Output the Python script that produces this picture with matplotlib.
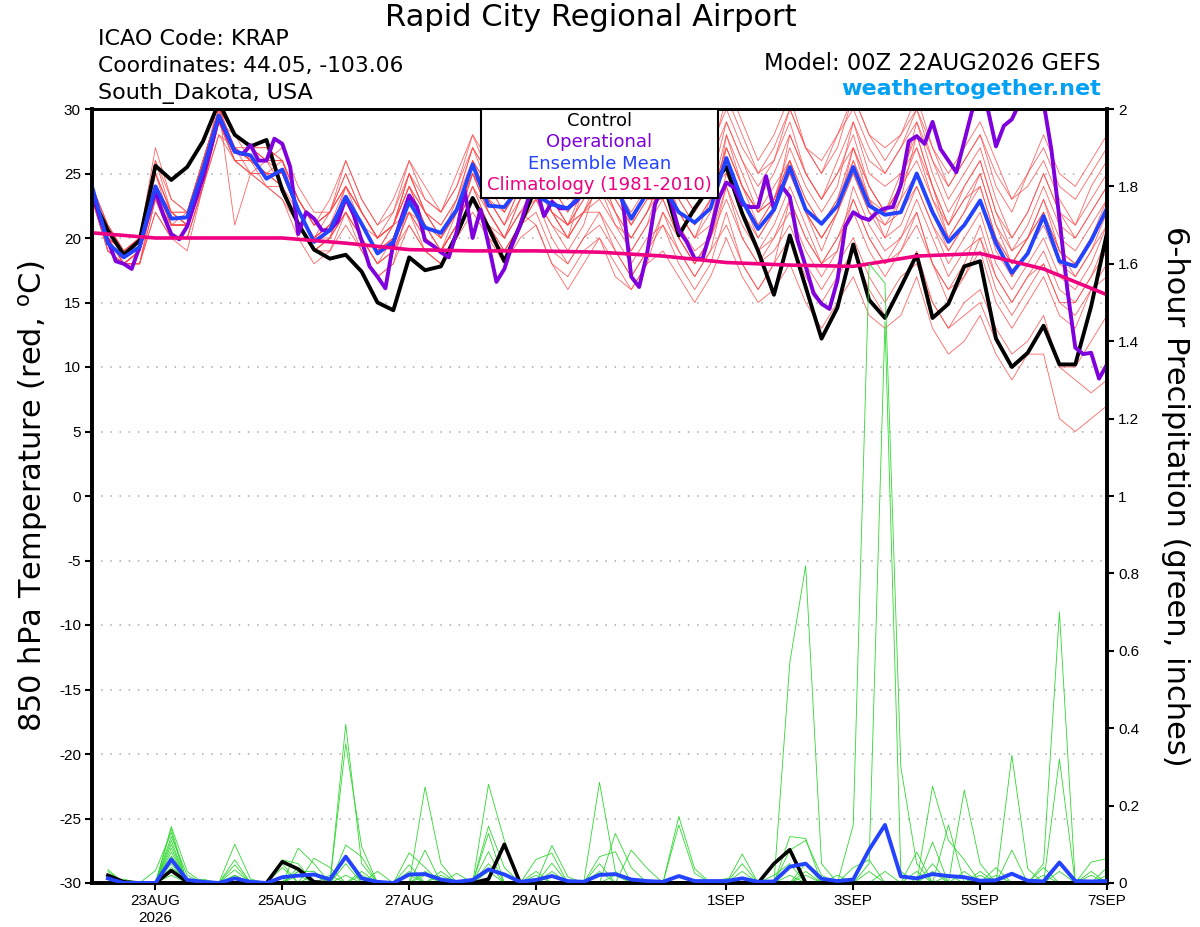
import numpy as np
import matplotlib
matplotlib.use('Agg')
import matplotlib.pyplot as plt
from matplotlib.patches import Rectangle

plt.rcParams['font.family'] = ['Liberation Sans', 'DejaVu Sans']
plt.rcParams['axes.unicode_minus'] = False
plt.rcParams['mathtext.fontset'] = 'dejavusans'

# ---- data (read off the GEFS plume for KRAP, run 00Z 22AUG2026) ----
# 850 hPa temperature, 6-hourly from 00Z 22AUG (65 steps)
temp_hours = np.arange(0, 385, 6)
control_t = [23.2, 20.6, 18.7, 19.8, 25.6, 24.5, 25.5, 27.5, 30.5, 28.0, 27.1, 27.6,
             23.7, 21.1, 19.1, 18.4, 18.7, 17.4, 15.0, 14.4, 18.5, 17.5, 17.8, 20.3,
             23.1, 20.8, 18.2, 21.0, 24.0, 23.8, 25.0, 24.2, 26.0, 24.5, 24.0, 25.0,
             24.5, 20.2, 22.3, 24.0, 25.5, 21.9, 19.0, 15.6, 20.2, 16.2, 12.2, 14.6,
             19.5, 15.2, 13.8, 16.2, 18.7, 13.8, 14.9, 17.8, 18.2, 12.2, 10.0, 11.1,
             13.2, 10.2, 10.2, 14.7, 20.4]
ensmean_t = [24.0, 19.6, 18.5, 19.3, 24.0, 21.5, 21.6, 25.3, 29.5, 26.7, 26.4, 24.6,
             25.3, 22.2, 19.7, 20.6, 23.2, 21.1, 18.8, 19.7, 22.8, 20.8, 20.4, 22.2,
             25.7, 22.5, 22.4, 24.0, 23.3, 22.6, 22.3, 23.5, 24.5, 24.0, 21.5, 23.5,
             24.0, 22.0, 21.2, 22.3, 26.2, 22.9, 20.7, 22.2, 25.5, 22.2, 21.1, 22.5,
             25.5, 22.5, 21.8, 22.0, 25.0, 22.0, 19.7, 21.0, 22.9, 19.6, 17.3, 18.8,
             21.7, 18.2, 17.8, 19.8, 22.3]

# operational run is 3-hourly (129 steps)
oper_hours = np.arange(0, 385, 3)
oper_t = [23.7, 21.5, 19.8, 18.2, 18.0, 17.6, 19.3, 21.5, 23.6, 21.8, 20.3, 19.9,
          20.9, 22.8, 24.7, 27.0, 29.4, 28.0, 26.7, 26.5, 27.2, 26.0, 26.0, 27.7,
          27.3, 25.5, 20.3, 22.0, 21.5, 20.6, 20.6, 21.3, 23.1, 21.8, 19.8, 17.8,
          17.0, 16.1, 19.6, 21.5, 23.3, 22.4, 19.8, 19.4, 18.9, 18.5, 20.5, 23.7,
          20.0, 22.2, 19.5, 16.6, 17.6, 19.5, 21.0, 23.0, 24.0, 21.7, 22.8, 22.3,
          22.3, 22.8, 23.5, 24.5, 25.0, 24.5, 25.5, 22.5, 17.0, 16.2, 18.8, 22.6,
          24.0, 22.9, 20.6, 19.7, 18.4, 18.4, 20.5, 23.0, 24.3, 23.9, 22.6, 22.4,
          22.4, 24.8, 22.2, 24.0, 23.2, 19.8, 17.8, 15.7, 14.9, 14.5, 16.7, 20.9,
          22.0, 21.6, 21.4, 22.0, 22.3, 22.4, 24.1, 27.5, 27.9, 27.3, 29.0, 26.9,
          26.0, 25.1, 27.5, 29.9, 30.3, 29.9, 27.1, 28.7, 29.2, 30.5, 31.5, 32.0,
          30.5, 26.8, 21.5, 16.0, 11.5, 11.0, 11.1, 9.1, 10.2]

# 1981-2010 climatology, once a day at 00Z
clim_hours = np.arange(0, 385, 24)
clim_t = [20.4, 20.0, 20.0, 20.0, 19.6, 19.1, 19.0, 19.0, 18.9, 18.6, 18.1,
          17.9, 17.8, 18.6, 18.8, 17.6, 15.6]

# individual ensemble members (temperature)
members_t = [
    [24,21,19,20, 26,22,22,26, 30,28,27,27, 26,23,21,22, 25,22,20,22, 25,23,22,24, 27,25,24,26,
     28,26,25,27, 29,27,25,27, 30,27,25,26, 31,28,25,27, 30,27,26,28, 31,28,27,28, 31,27,24,26,
     28,24,22,25, 27,24,23,25, 27],
    [23,19,18,18, 22,20,20,24, 29,26,25,24, 23,21,19,19, 21,19,17,18, 21,19,18,20, 22,20,18,20,
     21,18,17,19, 20,18,16,18, 19,17,15,17, 20,17,15,16, 18,15,13,15, 17,14,13,14, 17,13,11,12,
     14,11,9,11, 13,10,10,12, 14],
    [24,20,18,19, 24,21,22,26, 30,21,25,26, 24,21,19,20, 24,22,20,21, 24,21,19,21, 26,23,21,24,
     25,22,20,24, 27,24,21,24, 26,22,20,23, 28,24,21,23, 26,22,19,22, 27,23,20,23, 28,24,20,22,
     25,21,18,20, 23,19,17,19, 22],
    [23,20,19,19, 25,22,21,25, 29,27,26,25, 26,23,21,23, 26,23,21,22, 26,24,22,25, 28,26,24,27,
     30,28,26,29, 32,29,27,29, 31,28,26,28, 32,29,26,28, 31,27,25,28, 30,27,25,27, 29,26,24,26,
     28,25,23,24, 26,23,21,23, 25],
    [24,19,18,18, 23,21,21,25, 29,27,26,24, 24,21,19,20, 22,20,18,19, 22,20,19,21, 24,21,19,21,
     22,19,18,20, 22,19,17,19, 21,18,16,18, 22,18,16,18, 20,17,15,17, 19,16,14,16, 19,15,13,15,
     16,13,11,12, 14,10,9,8, 9],
    [24,20,19,19, 24,22,21,24, 28,26,26,25, 25,22,20,21, 23,21,19,20, 23,20,19,21, 24,22,20,22,
     23,21,19,21, 25,22,20,22, 24,21,19,20, 23,20,18,19, 21,18,16,18, 20,17,15,17, 18,15,13,14,
     15,12,10,11, 11,6,5,6, 7],
    [23,20,18,19, 24,21,21,25, 30,27,26,25, 25,22,20,21, 23,21,19,21, 25,22,20,22, 25,22,20,23,
     26,23,21,23, 25,22,19,21, 23,20,18,20, 25,22,19,21, 24,21,18,20, 23,20,18,20, 22,18,16,18,
     21,17,15,17, 19,16,15,17, 19],
    [24,21,19,20, 25,22,22,26, 30,27,27,26, 27,24,22,22, 24,22,20,21, 22,21,20,23, 26,24,23,25,
     25,22,21,23, 28,25,23,26, 29,26,24,27, 30,27,25,26, 29,25,23,26, 29,25,24,25, 28,24,21,23,
     25,21,19,21, 24,21,20,22, 24],
    [23,19,18,18, 23,20,20,24, 29,26,25,25, 24,21,19,20, 22,20,18,19, 22,19,18,20, 23,21,20,23,
     24,22,21,22, 23,21,19,21, 25,22,20,21, 27,24,22,23, 26,23,21,23, 27,24,22,24, 26,23,20,22,
     24,20,17,19, 22,18,17,19, 21],
    [24,20,18,19, 25,21,21,26, 29,28,26,26, 26,23,21,22, 26,23,21,23, 26,23,22,24, 28,25,23,26,
     27,24,22,25, 26,23,21,23, 27,24,22,24, 29,26,23,25, 28,25,23,25, 28,24,22,25, 27,23,21,24,
     26,22,20,22, 25,22,21,24, 26],
    [24,20,18,19, 23,20,19,24, 28,27,25,24, 23,20,18,19, 22,19,17,18, 23,21,19,21, 25,22,20,22,
     21,18,16,18, 20,17,16,18, 22,19,17,19, 21,18,16,18, 23,20,18,20, 22,19,17,19, 21,18,15,17,
     19,15,13,15, 17,14,13,16, 18],
    [24,20,19,19, 24,22,21,25, 29,26,26,25, 25,22,20,21, 23,21,20,21, 24,21,19,22, 25,23,22,24,
     25,23,21,22, 24,21,20,22, 25,23,21,23, 27,24,22,23, 26,23,21,23, 26,23,22,24, 29,25,22,24,
     26,22,19,20, 23,20,19,21, 23],
    [23,19,18,18, 24,21,21,25, 31,28,27,26, 26,22,20,22, 24,21,19,21, 24,22,21,23, 27,24,22,25,
     26,24,22,24, 27,25,23,25, 28,25,23,24, 26,23,21,23, 27,24,22,24, 29,26,25,27, 30,26,23,25,
     27,23,20,22, 25,22,20,22, 24],
    [24,20,18,18, 22,20,20,24, 29,27,26,25, 24,21,19,20, 23,20,18,19, 21,19,18,20, 23,20,19,21,
     23,21,20,22, 22,20,18,20, 21,19,17,19, 24,20,18,20, 23,20,18,19, 24,21,19,20, 23,20,17,19,
     20,17,15,17, 18,15,15,17, 20],
    [24,21,19,20, 26,23,22,26, 30,28,27,26, 26,23,21,22, 25,22,20,21, 24,22,20,22, 26,23,21,24,
     28,25,23,26, 27,25,23,25, 27,24,22,24, 25,22,20,22, 28,25,23,25, 27,24,22,24, 27,24,21,23,
     24,20,18,20, 22,19,18,20, 22],
    [24,20,18,19, 24,21,21,25, 29,27,26,25, 24,22,20,21, 23,21,19,20, 23,21,20,22, 25,22,20,22,
     24,22,20,22, 25,23,21,23, 23,20,18,20, 28,25,22,24, 26,22,20,22, 25,22,20,21, 24,21,18,20,
     22,18,16,18, 20,17,16,18, 21],
    [23,20,19,20, 27,23,22,26, 30,28,27,27, 26,23,21,22, 24,22,20,21, 25,22,21,23, 27,25,23,25,
     26,24,23,25, 29,26,24,26, 28,25,24,26, 29,26,24,26, 30,27,25,27, 31,28,26,28, 30,27,25,27,
     29,26,23,25, 28,25,24,26, 28],
    [24,20,18,19, 24,21,21,25, 29,26,25,25, 25,22,20,20, 22,20,18,20, 23,20,19,21, 24,21,19,21,
     23,20,18,20, 21,19,17,19, 22,20,18,20, 24,21,19,20, 22,19,17,19, 23,20,18,19, 22,18,16,17,
     20,16,14,16, 18,15,14,16, 17],
    [24,20,19,19, 25,22,21,26, 30,27,26,26, 25,22,20,21, 24,22,20,21, 25,22,20,22, 26,24,22,24,
     25,23,21,24, 26,24,22,24, 26,23,21,23, 27,24,22,23, 25,22,20,22, 26,23,21,23, 25,22,19,21,
     23,20,18,20, 22,19,18,20, 23],
    [23,20,18,19, 24,21,21,25, 29,27,26,25, 25,22,20,21, 23,21,19,20, 22,20,19,21, 25,23,21,23,
     25,22,20,22, 24,22,20,22, 25,22,20,22, 26,23,20,22, 25,22,20,22, 25,22,21,22, 24,21,19,21,
     23,19,17,19, 21,18,18,20, 22],
]

# 6-hour precipitation (inches), 06Z 22AUG .. 00Z 7SEP (64 steps)
precip_hours = np.arange(6, 385, 6)
control_p = [.02,.003,0,0,.032,.003,0,0, 0,0,0,.055,.036,.003,0,0,
             0,0,0,0,0,0,0,0, .01,.10,0,0,0,0,0,0,
             0,0,0,0,0,0,0,0, 0,0,.05,.086,0,0,0,0,
             0,0,0,0,0,0,0,0, 0,0,0,0,0,0,0,0]
ensmean_p = [.012,0,0,0,.061,.008,.003,0, .012,.003,0,.015,.019,.022,.009,.068,
             .012,.003,0,.022,.023,.009,.003,.008, .035,.022,.003,.008,.018,.005,.003,.021,
             .023,.009,.005,.003,.018,.005,.005,.005, .012,.003,.004,.042,.05,.011,.005,.009,
             .086,.15,.017,.012,.023,.018,.015,.006, .007,.024,.006,.004,.053,.005,.004,.005]
members_p = [
    [.03,0,0,0,.146,.03,0,0, 0,0,0,0,0,0,0,.41, .05,0,0,0,0,0,0,0, .255,.11,0,0,0,0,0,0,
     0,0,0,0,0,0,0,0, 0,0,0,0,.05,0,0,.15, 1.60,1.55,.30,.05,0,0,0,0, 0,0,0,0,0,0,0,0],
    [.02,0,0,0,.14,0,0,0, .10,.01,0,0,0,0,0,.36, .094,0,0,0,.085,0,0,0, 0,0,0,0,0,0,0,.26,
     .03,0,0,0,0,0,0,0, 0,0,0,.57,.82,.05,0,0, 0,0,0,0,.05,0,0,0, 0,0,0,0,0,0,0,0],
    [.01,0,0,.032,.13,0,0,0, 0,0,0,0,.09,.05,0,0, 0,0,0,0,.248,.05,0,0, 0,0,0,0,0,0,0,0,
     0,0,0,0,.172,.037,0,0, 0,0,0,0,0,0,0,0, 0,0,0,0,0,0,0,0, 0,0,0,.05,.70,0,0,0],
    [0,0,0,0,.12,.02,0,0, 0,0,0,.06,.05,0,0,0, 0,0,0,.078,.04,0,0,0, 0,0,0,0,.097,.016,0,0,
     0,0,0,0,0,0,0,0, 0,0,0,0,0,0,0,0, .05,1.45,.03,0,0,0,0,0, 0,.33,.037,0,0,0,0,0],
    [0,.01,0,0,.11,0,0,0, .06,0,0,0,0,0,0,.098, .068,0,0,0,0,0,0,0, .147,.04,0,0,0,0,0,0,
     .128,.04,0,0,0,0,0,0, 0,0,0,0,0,0,0,0, 0,0,0,0,.25,.11,.06,0, 0,0,0,0,0,0,0,0],
    [.035,0,0,0,.10,0,0,0, 0,0,0,.05,0,.064,.04,0, 0,0,0,.047,0,0,0,0, 0,0,0,.061,.077,0,0,0,
     0,0,0,0,.15,.025,0,0, 0,0,0,.12,.115,0,0,0, 0,0,0,0,0,0,.24,.05, 0,0,0,0,0,0,0,0],
    [0,0,0,0,.09,0,0,0, .047,0,0,0,0,0,0,.07, 0,0,0,0,0,0,0,0, .128,0,0,0,0,0,0,.068,
     .081,0,0,0,0,0,0,0, .075,0,0,0,0,0,0,.04, .06,0,0,0,0,0,0,0, 0,0,0,0,.32,0,.054,.063],
    [0,0,0,0,.08,0,0,0, 0,0,0,0,.04,0,0,0, 0,.03,0,0,0,.03,0,0, .081,0,0,0,.051,0,0,0,
     0,.085,.038,0,0,0,0,0, 0,0,0,.085,.11,.02,0,0, 0,0,0,0,0,.15,0,0, .04,0,0,0,0,0,0,.02],
    [0,0,0,0,.06,0,0,0, .034,0,0,0,.03,.03,0,.05, 0,0,0,.03,0,0,0,0, .05,0,0,.03,0,0,0,.05,
     0,0,0,0,0,0,0,0, .05,0,0,0,0,0,0,0, 0,0,0,0,.106,0,0,0, 0,.085,0,.04,0,0,.03,0],
    [.015,0,0,0,.04,.01,0,0, 0,0,0,.04,0,0,.02,0, .03,0,0,0,0,0,.025,0, 0,0,0,0,0,0,0,0,
     0,0,0,0,0,0,0,.012, 0,0,.02,.05,0,0,.02,0, 0,0,0,.03,0,0,0,.03, 0,0,0,0,.03,0,0,0],
    [0,0,0,0,.03,0,.01,0, .02,0,0,0,0,0,0,.02, 0,0,0,0,0,.02,0,0, 0,0,0,0,.02,0,0,0,
     .02,0,0,0,0,0,0,0, 0,0,0,0,.03,0,0,0, 0,0,0,.08,0,0,0,.02, 0,0,0,.02,0,0,.02,0],
    [0,0,0,0,.02,0,0,0, 0,0,0,0,.02,0,0,0, 0,0,0,0,.02,0,0,0, .03,0,0,0,0,0,0,0,
     0,0,0,0,.02,0,0,0, 0,0,0,.02,0,0,0,0, .03,0,0,0,0,.02,0,0, .02,0,0,0,0,0,0,.04],
    [0,0,0,0,.07,0,0,0, 0,0,0,0,.03,0,0,0, .02,0,0,0,.03,0,0,0, 0,0,0,0,.03,0,0,0,
     0,0,0,0,0,0,0,0, .03,0,0,0,0,0,0,0, 0,.03,0,0,0,0,.03,0, 0,0,0,0,0,0,0,0],
    [0,0,0,0,.05,0,0,0, .02,0,0,0,0,.02,0,0, 0,0,0,.02,0,0,0,0, 0,0,0,.02,0,0,0,.03,
     0,0,0,0,0,0,0,0, 0,0,0,0,.02,0,0,0, 0,0,0,0,.03,0,0,0, 0,0,0,0,0,0,0,0],
]

tick_hours = [24, 72, 120, 168, 240, 288, 336, 384]
tick_labels = ['23AUG\n2026', '25AUG', '27AUG', '29AUG', '1SEP', '3SEP', '5SEP', '7SEP']
precip_ticks = [0, 0.2, 0.4, 0.6, 0.8, 1.0, 1.2, 1.4, 1.6, 1.8, 2.0]
precip_labels = ['0', '0.2', '0.4', '0.6', '0.8', '1', '1.2', '1.4', '1.6', '1.8', '2']

c_red = '#ff4a4a'
c_green = '#30d830'
c_black = '#000000'
c_purple = '#7f00dd'
c_blue = '#2343ff'
c_pink = '#ee0080'
big = 'DejaVu Sans'   # wider face, closer to the original header lettering

W, H = 1200, 927
fig = plt.figure(figsize=(W / 100, H / 100), dpi=100)
ax = fig.add_axes([92 / W, 44 / H, 1015 / W, 774 / H])

for yy in range(-25, 30, 5):
    ax.axhline(yy, color='#aaaaaa', lw=1.1, ls=(0, (1, 5)), zorder=0.5)

for m in members_t:
    ax.plot(temp_hours, m, color=c_red, lw=0.6, alpha=0.85, zorder=1)
ax.plot(temp_hours, control_t, color=c_black, lw=2.8, zorder=3)
ax.plot(oper_hours, oper_t, color=c_purple, lw=2.8, zorder=4)
ax.plot(temp_hours, ensmean_t, color=c_blue, lw=2.8, zorder=5)
ax.plot(clim_hours, clim_t, color=c_pink, lw=2.6, zorder=6)

ax.set_xlim(0, 384)
ax.set_ylim(-30, 30)
ax.set_yticks(range(-30, 31, 5))
ax.set_xticks(tick_hours)
ax.set_xticklabels(tick_labels, linespacing=1.25)
ax.tick_params(axis='both', direction='out', length=5, width=1.5, labelsize=11, pad=3)
ax.set_ylabel(r'850 hPa Temperature (red, $^{\mathrm{o}}$C)', fontsize=22, family=big)
ax.yaxis.set_label_coords(-0.041, 0.5)

ax2 = ax.twinx()
for m in members_p:
    ax2.plot(precip_hours, m, color=c_green, lw=0.6, zorder=1)
ax2.plot(precip_hours, ensmean_p, color=c_blue, lw=2.8, zorder=3)
ax2.plot(precip_hours, control_p, color=c_black, lw=2.6, zorder=2)
ax2.set_ylim(0, 2)
ax2.set_yticks(precip_ticks)
ax2.set_yticklabels(precip_labels)
ax2.tick_params(axis='y', direction='out', length=5, width=1.5, labelsize=11, pad=3)
ax2.set_ylabel('6-hour Precipitation (green, inches)', fontsize=22, rotation=270, family=big)
ax2.yaxis.set_label_coords(1.082, 0.5)

for a in (ax, ax2):
    for s in ('left', 'right', 'bottom'):
        a.spines[s].set_linewidth(2.6)
    a.spines['top'].set_linewidth(2.0)

# header text
fig.text(0.492, 1 - 18 / H, 'Rapid City Regional Airport', ha='center', va='center',
         fontsize=22, family=big)
fig.text(98 / W, 1 - 39 / H, 'ICAO Code: KRAP', va='center', fontsize=16, family=big)
fig.text(98 / W, 1 - 66 / H, 'Coordinates: 44.05, -103.06', va='center', fontsize=15.7, family=big)
fig.text(98 / W, 1 - 93 / H, 'South_Dakota, USA', va='center', fontsize=16, family=big)
fig.text(1101 / W, 1 - 64 / H, 'Model: 00Z 22AUG2026 GEFS', ha='right', va='center',
         fontsize=16.3, family=big)
fig.text(1101 / W, 1 - 89 / H, 'weathertogether.net', ha='right', va='center',
         fontsize=16, fontweight='bold', color='#03a0f4', family=big)

# legend box
fig.add_artist(Rectangle((481 / W, 1 - 198 / H), 237 / W, 89 / H, transform=fig.transFigure,
                         facecolor='white', edgecolor='black', lw=1.5, zorder=10))
leg_items = [('Control', c_black), ('Operational', c_purple),
             ('Ensemble Mean', c_blue), ('Climatology (1981-2010)', c_pink)]
for k, (txt, col) in enumerate(leg_items):
    fig.text(599.5 / W, 1 - (121 + 21.3 * k) / H, txt, ha='center', va='center',
             fontsize=13, color=col, zorder=11, family=big)

fig.savefig('out.png', dpi=100)
